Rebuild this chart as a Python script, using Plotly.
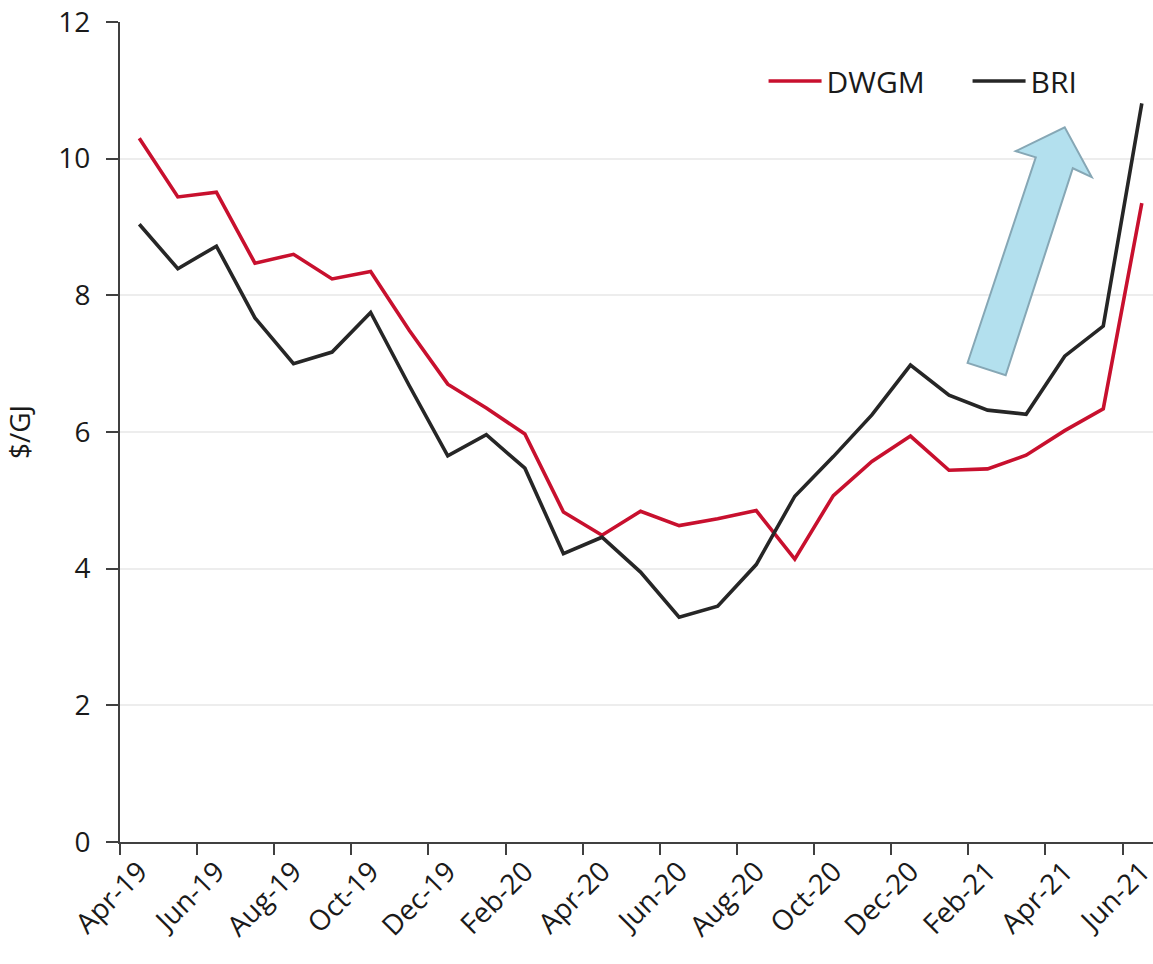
import plotly.graph_objects as go

months = ["Apr-19", "May-19", "Jun-19", "Jul-19", "Aug-19", "Sep-19", "Oct-19", "Nov-19", "Dec-19",
          "Jan-20", "Feb-20", "Mar-20", "Apr-20", "May-20", "Jun-20", "Jul-20", "Aug-20", "Sep-20",
          "Oct-20", "Nov-20", "Dec-20", "Jan-21", "Feb-21", "Mar-21", "Apr-21", "May-21", "Jun-21"]
dwgm = [10.30, 9.44, 9.51, 8.47, 8.60, 8.24, 8.35, 7.49, 6.70, 6.35, 5.97, 4.83, 4.49,
        4.84, 4.63, 4.73, 4.85, 4.14, 5.07, 5.57, 5.94, 5.44, 5.46, 5.66, 6.02, 6.34, 9.35]
bri = [9.04, 8.39, 8.72, 7.67, 7.00, 7.17, 7.75, 6.68, 5.65, 5.96, 5.47, 4.22, 4.46,
       3.95, 3.29, 3.45, 4.06, 5.06, 5.64, 6.25, 6.98, 6.54, 6.32, 6.26, 7.11, 7.55, 10.81]
y_ticks = [0, 2, 4, 6, 8, 10, 12]

idx = list(range(len(months)))
label_idx = idx[::2]
label_text = months[::2]
boundaries = [i - 0.5 for i in label_idx]

FONT = "Open Sans"
TXT = "#1a1a1a"

fig = go.Figure()
fig.add_trace(go.Scatter(x=idx, y=dwgm, mode="lines", name="DWGM",
                         line=dict(color="#C8102E", width=3.6)))
fig.add_trace(go.Scatter(x=idx, y=bri, mode="lines", name="BRI",
                         line=dict(color="#262626", width=3.6)))

# block arrow annotation (data coordinates)
arrow = [(21.48, 7.01), (23.25, 10.02), (22.73, 10.11), (24.00, 10.46),
         (24.70, 9.73), (24.21, 9.86), (22.47, 6.83)]
path = "M " + " L ".join(f"{x},{y}" for x, y in arrow) + " Z"
fig.add_shape(type="path", path=path, xref="x", yref="y",
              fillcolor="#B3E0EE", line=dict(color="#86A7B5", width=2), layer="above")

fig.update_layout(
    width=1153, height=964,
    margin=dict(l=120, r=0, t=22, b=122, autoexpand=False),
    paper_bgcolor="white", plot_bgcolor="white",
    font=dict(family=FONT, size=28, color=TXT),
    showlegend=True,
    legend=dict(orientation="h", x=0.623, y=0.928, xanchor="left", yanchor="middle",
                font=dict(size=30, color=TXT), bgcolor="rgba(0,0,0,0)",
                itemwidth=53, tracegroupgap=0, entrywidth=136),
)
fig.update_xaxes(
    range=[-0.5, 26.29],
    tickmode="array", tickvals=label_idx, ticktext=label_text,
    tickangle=-45, ticks="", ticklabeloverflow="allow",
    showline=True, linecolor="#404040", linewidth=2,
    showgrid=False, zeroline=False,
    tickfont=dict(size=28, color=TXT),
    minor=dict(tickmode="array", tickvals=boundaries, ticks="outside", ticklen=11,
               tickcolor="#404040", tickwidth=2, showgrid=False),
)
fig.update_yaxes(
    range=[0, 12], tickmode="array", tickvals=y_ticks,
    ticks="outside", ticklen=12, tickcolor="#404040", tickwidth=2,
    ticklabeloverflow="allow",
    showline=True, linecolor="#404040", linewidth=2,
    showgrid=True, gridcolor="#EDEDED", gridwidth=1.5, zeroline=False,
    tickfont=dict(size=28, color=TXT), ticklabelstandoff=10,
    title=dict(text="$/GJ", font=dict(size=28, color=TXT), standoff=22),
)

# remove the default page margin so the 1153x964 figure fills the window exactly
fig.write_html("out.html",
               config={"displayModeBar": False},
               post_script="document.body.style.margin='0';document.body.style.overflow='hidden';")
